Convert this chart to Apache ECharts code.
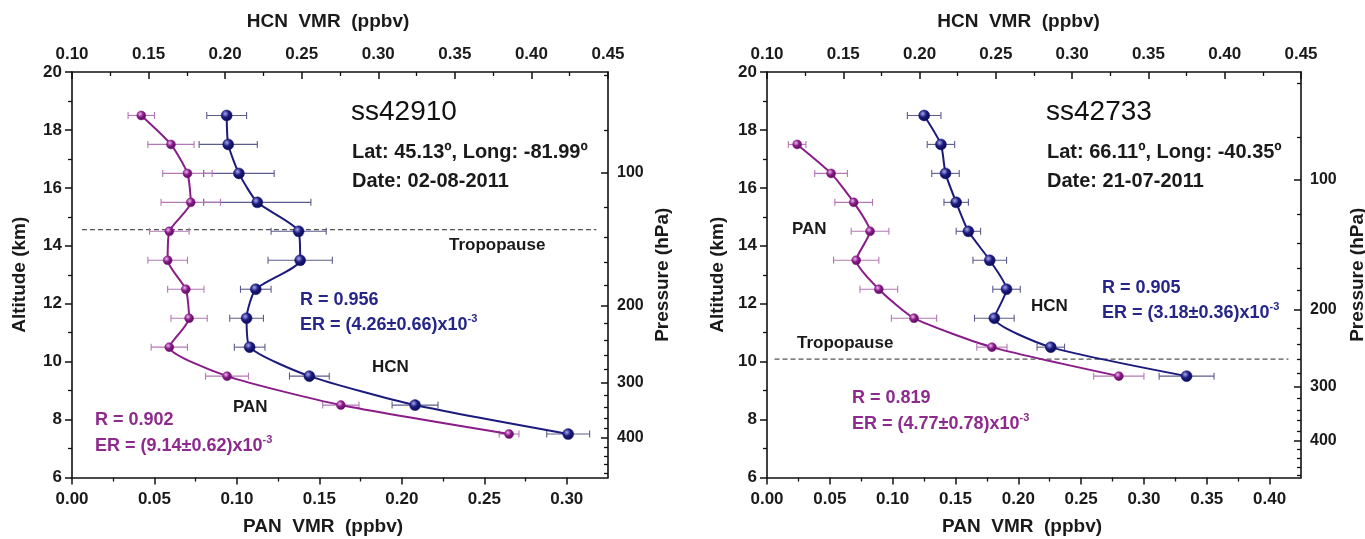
<!DOCTYPE html>
<html><head><meta charset="utf-8">
<script src="https://cdn.jsdelivr.net/npm/echarts@6/dist/echarts.min.js"></script>
<style>html,body{margin:0;padding:0;background:#fff}#c{width:1365px;height:539px}</style>
</head><body><div id="c"></div>
<script>
// ---------- data ----------
const altsL   = [18.5,17.5,16.5,15.5,14.5,13.5,12.5,11.5,10.5,9.5,8.5,7.5];
const hcnL    = [0.201,0.202,0.209,0.221,0.248,0.249,0.220,0.214,0.216,0.255,0.324,0.424];
const hcnErrL = [0.013,0.019,0.023,0.035,0.018,0.021,0.010,0.011,0.010,0.013,0.015,0.014];
const panL    = [0.042,0.060,0.070,0.072,0.059,0.058,0.069,0.071,0.059,0.094,0.163,0.265];
const panErrL = [0.008,0.014,0.015,0.018,0.012,0.012,0.011,0.011,0.011,0.013,0.011,0.006];

const altsHcnR = [18.5,17.5,16.5,15.5,14.5,13.5,12.5,11.5,10.5,9.5];
const hcnR     = [0.203,0.214,0.217,0.224,0.232,0.246,0.257,0.249,0.286,0.375];
const hcnErrR  = [0.011,0.009,0.009,0.008,0.008,0.011,0.009,0.013,0.009,0.018];
const altsPanR = [17.5,16.5,15.5,14.5,13.5,12.5,11.5,10.5,9.5];
const panR     = [0.024,0.051,0.069,0.082,0.071,0.089,0.117,0.179,0.280];
const panErrR  = [0.007,0.013,0.015,0.015,0.018,0.015,0.018,0.012,0.020];

const tropoAlt  = [14.56, 10.09];
const tropoSpan = [[0.006,0.318],[0.006,0.415]];

// axis ticks
const altMajor = [6,8,10,12,14,16,18,20];
const altMinor = [7,9,11,13,15,17,19];
const hcnMajor = [0.10,0.15,0.20,0.25,0.30,0.35,0.40,0.45];
const hcnMinor = [0.125,0.175,0.225,0.275,0.325,0.375,0.425];
const panMajorL = [0,0.05,0.10,0.15,0.20,0.25,0.30];
const panMinorL = [0.025,0.075,0.125,0.175,0.225,0.275];
const panMajorR = [0,0.05,0.10,0.15,0.20,0.25,0.30,0.35,0.40];
const panMinorR = [0.025,0.075,0.125,0.175,0.225,0.275,0.325,0.375];
const presMajor = [100,200,300,400];
const presMinor = [60,80,120,140,160,180,220,240,260,280,320,340,360,380,420,440,460,480];
const panMax   = [0.325, 0.425];
const hcnRange = [0.10, 0.45];
const altRange = [6, 20];
const presRange = [[59.0,492],[56.5,487]];

// ---------- style ----------
const FONT = "'Liberation Sans', Arial, sans-serif";
const NAVY = '#1b1b7e', PURP = '#8a1c8a';
const NAVY_T = '#25258a', PURP_T = '#8e2a8e';
const AX = '#111';

function axisBase(type, gridIndex, pos, min, max, extra) {
  return Object.assign({type, gridIndex, position: pos, min, max,
    axisLine:{show:false,onZero:false}, axisLabel:{show:false}, axisTick:{show:false},
    splitLine:{show:false}, minorTick:{show:false}, splitArea:{show:false}}, extra||{});
}
function mainAxis(type, gi, pos, min, max, majors, fmt, inside, name, nameGap, namePad, inverse, lblSize, lblMargin) {
  return axisBase(type, gi, pos, min, max, {
    inverse: !!inverse,
    name, nameLocation:'middle', nameGap,
    nameRotate: (pos==='left'||pos==='right') ? 90 : 0,
    nameTextStyle:{fontSize:19,fontWeight:'bold',color:'#1a1a1a',fontFamily:FONT,padding:namePad||0},
    axisLine:{show:true,onZero:false,lineStyle:{color:AX,width:1.6}},
    axisTick:{show:true,inside,length:7,customValues:majors,lineStyle:{color:AX,width:1.5}},
    axisLabel:{show:true,customValues:majors,formatter:fmt,fontSize:lblSize||17,fontWeight:'bold',color:'#1a1a1a',fontFamily:FONT,margin:lblMargin||9}
  });
}
function minorAxis(type, gi, pos, min, max, minors, inside, inverse) {
  return axisBase(type, gi, pos, min, max, {
    inverse: !!inverse,
    axisTick:{show:true,inside,length:4,customValues:minors,lineStyle:{color:AX,width:1.3}}
  });
}
const f2 = v => Number(v).toFixed(2);
const f0 = v => String(Math.round(v));

const xAxis = [], yAxis = [];
for (let g = 0; g < 2; g++) {
  const pm = g===0 ? panMajorL : panMajorR, pn = g===0 ? panMinorL : panMinorR;
  xAxis.push(mainAxis('value', g, 'bottom', 0, panMax[g], pm, f2, false, 'PAN  VMR  (ppbv)', 40, g===0?[0,34,0,0]:[0,24,0,0], false, 17, 13));
  xAxis.push(minorAxis('value', g, 'bottom', 0, panMax[g], pn, false));
  xAxis.push(mainAxis('value', g, 'top', hcnRange[0], hcnRange[1], hcnMajor, f2, true, 'HCN  VMR  (ppbv)', 41, g===0?[0,24,0,0]:[0,31,0,0]));
  xAxis.push(minorAxis('value', g, 'top', hcnRange[0], hcnRange[1], hcnMinor, true));
  yAxis.push(mainAxis('value', g, 'left', altRange[0], altRange[1], altMajor, f0, false, 'Altitude (km)', g===0?43:40, [0,0,0,0], false, 17, 10));
  yAxis.push(minorAxis('value', g, 'left', altRange[0], altRange[1], altMinor, false));
  yAxis.push(mainAxis('log', g, 'right', presRange[g][0], presRange[g][1], presMajor, f0, true, 'Pressure (hPa)', g===0?45:47, [0,0,0,0], true, 16));
  yAxis.push(minorAxis('log', g, 'right', presRange[g][0], presRange[g][1], presMinor, true, true));
}

function ball(c0, c1, c2) {
  return {type:'radial', x:0.38, y:0.35, r:0.7, colorStops:[
    {offset:0,color:c0},{offset:0.45,color:c1},{offset:1,color:c2}]};
}
function lineSeries(name, xs, alts, xi, yi, color, grad, size) {
  return {type:'line', name, xAxisIndex:xi, yAxisIndex:yi, z:3,
    data: xs.map((v,i)=>[v, alts[i]]), smooth:0.2,
    symbol:'circle', symbolSize:size, showSymbol:true,
    lineStyle:{color, width:2}, itemStyle:{color:grad, borderColor:color, borderWidth:0.5},
    emphasis:{disabled:true}, animation:false};
}
function errSeries(xs, errs, alts, xi, yi, color) {
  return {type:'custom', xAxisIndex:xi, yAxisIndex:yi, z:2, animation:false, silent:true,
    encode:{x:0,y:1},
    data: xs.map((v,i)=>[v, alts[i], errs[i]]),
    renderItem:(params, api) => {
      const v = api.value(0), a = api.value(1), e = api.value(2);
      const p1 = api.coord([v-e, a]), p2 = api.coord([v+e, a]);
      const h = 3.5, st = {stroke:color, lineWidth:1.1};
      return {type:'group', children:[
        {type:'line', shape:{x1:p1[0],y1:p1[1],x2:p2[0],y2:p2[1]}, style:st},
        {type:'line', shape:{x1:p1[0],y1:p1[1]-h,x2:p1[0],y2:p1[1]+h}, style:st},
        {type:'line', shape:{x1:p2[0],y1:p2[1]-h,x2:p2[0],y2:p2[1]+h}, style:st}
      ]};
    }};
}
function tropoSeries(g) {
  return {type:'line', xAxisIndex:g*4, yAxisIndex:g*4, z:1, animation:false, silent:true,
    data: tropoSpan[g].map(v=>[v, tropoAlt[g]]), symbol:'none',
    lineStyle:{color:'#555', width:1.3, type:[5,3]}};
}

const navyBall = ball('#a8a8ee', NAVY, '#08084a');
const purpBall = ball('#f0b8f0', PURP, '#4e0a4e');

const series = [
  tropoSeries(0), tropoSeries(1),
  errSeries(hcnL, hcnErrL, altsL, 2, 0, '#5c5c8c'),
  errSeries(panL, panErrL, altsL, 0, 0, '#b577b5'),
  lineSeries('HCN', hcnL, altsL, 2, 0, NAVY, navyBall, 11),
  lineSeries('PAN', panL, altsL, 0, 0, PURP, purpBall, 9),
  errSeries(hcnR, hcnErrR, altsHcnR, 6, 4, '#5c5c8c'),
  errSeries(panR, panErrR, altsPanR, 4, 4, '#b577b5'),
  lineSeries('HCN', hcnR, altsHcnR, 6, 4, NAVY, navyBall, 11),
  lineSeries('PAN', panR, altsPanR, 4, 4, PURP, purpBall, 9)
];

// ---------- annotations ----------
function txt(x, y, text, color, size, weight, rich) {
  return {type:'text', x, y, z:10, silent:true,
    style:{text, fill:color, fontSize:size, fontWeight:weight||'normal', fontFamily:FONT,
      align:'left', verticalAlign:'middle', rich: rich||undefined}};
}
function erTxt(x, y, text, color) {
  return txt(x, y, text + '{sup|-3}', color, 18, 'bold', {
    sup:{fontSize:11, fontWeight:'bold', fontFamily:FONT, fill:color, verticalAlign:'top', lineHeight:24, padding:[0,0,0,0]}
  });
}
const graphic = [
  txt(351, 112, 'ss42910', '#111', 28, 'normal'),
  txt(352, 152, 'Lat: 45.13º, Long: -81.99º', '#1a1a1a', 20, 'bold'),
  txt(352, 181, 'Date: 02-08-2011', '#1a1a1a', 20, 'bold'),
  txt(449, 245, 'Tropopause', '#1a1a1a', 17, 'bold'),
  txt(300, 300, 'R = 0.956', NAVY_T, 18, 'bold'),
  erTxt(300, 325, 'ER = (4.26±0.66)x10', NAVY_T),
  txt(372, 367, 'HCN', '#1a1a1a', 17, 'bold'),
  txt(233, 407, 'PAN', '#1a1a1a', 17, 'bold'),
  txt(95, 420, 'R = 0.902', PURP_T, 18, 'bold'),
  erTxt(95, 446, 'ER = (9.14±0.62)x10', PURP_T),

  txt(1046, 112, 'ss42733', '#111', 28, 'normal'),
  txt(1047, 152, 'Lat: 66.11º, Long: -40.35º', '#1a1a1a', 20, 'bold'),
  txt(1047, 181, 'Date: 21-07-2011', '#1a1a1a', 20, 'bold'),
  txt(792, 229, 'PAN', '#1a1a1a', 17, 'bold'),
  txt(797, 343, 'Tropopause', '#1a1a1a', 17, 'bold'),
  txt(852, 398, 'R = 0.819', PURP_T, 18, 'bold'),
  erTxt(852, 424, 'ER = (4.77±0.78)x10', PURP_T),
  txt(1031, 306, 'HCN', '#1a1a1a', 17, 'bold'),
  txt(1102, 288, 'R = 0.905', NAVY_T, 18, 'bold'),
  erTxt(1102, 313, 'ER = (3.18±0.36)x10', NAVY_T)
];

const chart = echarts.init(document.getElementById('c'), null, {renderer:'canvas'});
chart.setOption({
  animation:false,
  backgroundColor:'#fff',
  textStyle:{fontFamily:FONT},
  grid:[
    {left:72, top:72, width:536, height:405.5, containLabel:false, outerBoundsMode:'none'},
    {left:767, top:72, width:534, height:405.5, containLabel:false, outerBoundsMode:'none'}
  ],
  xAxis, yAxis, series, graphic
});
</script></body></html>
